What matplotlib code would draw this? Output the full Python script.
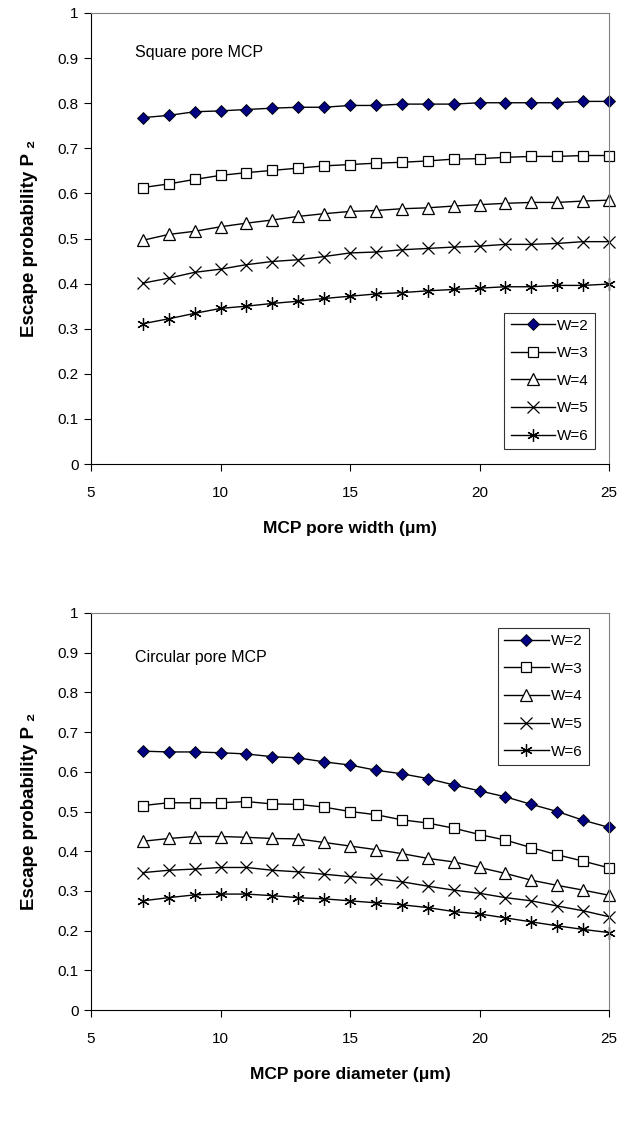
import numpy as np
import matplotlib
matplotlib.use('Agg')
import matplotlib.pyplot as plt

plt.rcParams['font.family'] = ['Liberation Sans', 'DejaVu Sans']

x = list(range(7, 26))
labels = ["W=2", "W=3", "W=4", "W=5", "W=6"]

square = [
    [0.768, 0.773, 0.781, 0.783, 0.786, 0.789, 0.791, 0.791, 0.795, 0.795,
     0.798, 0.798, 0.798, 0.801, 0.801, 0.801, 0.801, 0.804, 0.804],
    [0.613, 0.621, 0.631, 0.640, 0.646, 0.651, 0.656, 0.661, 0.664, 0.667,
     0.669, 0.672, 0.676, 0.677, 0.680, 0.682, 0.682, 0.684, 0.684],
    [0.496, 0.509, 0.516, 0.526, 0.534, 0.541, 0.549, 0.555, 0.560, 0.562,
     0.566, 0.568, 0.572, 0.575, 0.578, 0.580, 0.580, 0.583, 0.585],
    [0.401, 0.412, 0.425, 0.432, 0.442, 0.449, 0.453, 0.460, 0.468, 0.470,
     0.475, 0.478, 0.481, 0.483, 0.487, 0.487, 0.489, 0.493, 0.493],
    [0.311, 0.322, 0.334, 0.345, 0.350, 0.356, 0.361, 0.367, 0.372, 0.377,
     0.380, 0.384, 0.387, 0.390, 0.393, 0.393, 0.396, 0.396, 0.399],
]

circular = [
    [0.652, 0.650, 0.650, 0.648, 0.645, 0.638, 0.635, 0.625, 0.617, 0.604,
     0.595, 0.583, 0.567, 0.552, 0.537, 0.518, 0.500, 0.478, 0.460],
    [0.515, 0.522, 0.522, 0.522, 0.525, 0.519, 0.518, 0.511, 0.500, 0.492,
     0.479, 0.471, 0.458, 0.442, 0.428, 0.409, 0.391, 0.375, 0.358],
    [0.425, 0.432, 0.437, 0.437, 0.435, 0.432, 0.431, 0.422, 0.413, 0.404,
     0.394, 0.382, 0.373, 0.359, 0.344, 0.327, 0.314, 0.302, 0.289],
    [0.346, 0.352, 0.355, 0.359, 0.359, 0.352, 0.348, 0.342, 0.336, 0.331,
     0.323, 0.312, 0.302, 0.294, 0.283, 0.275, 0.262, 0.250, 0.235],
    [0.275, 0.283, 0.290, 0.292, 0.292, 0.288, 0.283, 0.280, 0.275, 0.270,
     0.265, 0.258, 0.248, 0.242, 0.232, 0.222, 0.212, 0.203, 0.195],
]

styles = [
    dict(marker='D', markersize=6.5, markerfacecolor='#000080', markeredgecolor='black', markeredgewidth=0.6),
    dict(marker='s', markersize=7, markerfacecolor='white', markeredgecolor='black', markeredgewidth=0.9),
    dict(marker='^', markersize=8, markerfacecolor='white', markeredgecolor='black', markeredgewidth=0.9),
    dict(marker='x', markersize=8, markeredgecolor='black', markeredgewidth=0.9),
    dict(marker=(6, 2, 0), markersize=9, markeredgecolor='black', markeredgewidth=0.9),
]


def draw(ax, data, title, title_y, xlabel, legend_loc, anchor):
    for vals, lab, st in zip(data, labels, styles):
        ax.plot(x, vals, color='black', linewidth=1.0, label=lab, clip_on=False, **st)
    ax.set_xlim(5, 25)
    ax.set_ylim(0, 1)
    ax.set_xticks([5, 10, 15, 20, 25])
    ax.set_yticks(np.arange(0, 1.01, 0.1))
    ax.set_yticklabels(['0', '0.1', '0.2', '0.3', '0.4', '0.5', '0.6', '0.7', '0.8', '0.9', '1'])
    ax.tick_params(direction='out', length=5, width=0.8, labelsize=11, pad=4)
    ax.tick_params(axis='x', pad=11)
    ax.spines['top'].set_color('#808080')
    ax.spines['right'].set_color('#808080')
    ax.set_xlabel(xlabel, fontsize=12.5, fontweight='bold', labelpad=15)
    ax.set_ylabel('Escape probability P \u2082', fontsize=13.5, fontweight='bold', labelpad=14)
    ax.text(0.085, title_y, title, transform=ax.transAxes, fontsize=11.5, va='center')
    leg = ax.legend(loc=legend_loc, bbox_to_anchor=anchor, fontsize=11, frameon=True,
                    fancybox=False, edgecolor='black', handlelength=2.9,
                    handletextpad=0.15, labelspacing=0.89, borderpad=0.4,
                    borderaxespad=0.0)
    leg.get_frame().set_linewidth(0.8)


fig = plt.figure(figsize=(6.29, 11.45), dpi=100)
W, H = 629, 1145
ax1 = fig.add_axes([91 / W, 1 - 464 / H, (609 - 91) / W, (464 - 13) / H])
ax2 = fig.add_axes([91 / W, 1 - 1010 / H, (609 - 91) / W, (1010 - 613) / H])

draw(ax1, square, 'Square pore MCP', 0.913, 'MCP pore width (\u03bcm)',
     'lower right', (0.973, 0.033))
draw(ax2, circular, 'Circular pore MCP', 0.889, 'MCP pore diameter (\u03bcm)',
     'upper right', (0.961, 0.962))

fig.savefig('out.png', dpi=100)
plt.close()
